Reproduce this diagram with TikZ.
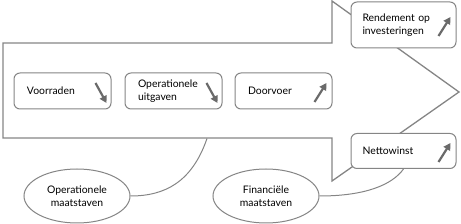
\documentclass[tikz,border=0pt]{standalone}
\usepackage{fontspec}
\setmainfont{Lato}
\usetikzlibrary{shapes.geometric, arrows.meta, calc}

\definecolor{edgegray}{HTML}{858585}
\definecolor{trendgray}{HTML}{6A6A6A}

\begin{document}
\begin{tikzpicture}[x=1pt, y=-1pt,
    every node/.style={font=\fontsize{10.4}{13}\selectfont},
    kpi/.style={draw=edgegray, line width=1pt, rounded corners=6pt, fill=white,
        align=left, inner ysep=0pt},
    kpismall/.style={kpi, text width=71pt, inner xsep=13pt, minimum height=36pt},
    kpiwide/.style={kpi, text width=82pt, inner xsep=11.5pt},
    kind/.style={ellipse, draw=edgegray, line width=1pt, fill=white, align=center,
        minimum width=106pt, minimum height=54pt, inner sep=0pt},
    trend/.style={draw=trendgray, line width=2.2pt, -{Triangle[length=7pt, width=7.5pt]}},
    link/.style={draw=edgegray, line width=1pt}]
    \useasboundingbox (0,0) rectangle (461,224);

    % Big arrow
    \draw[edgegray, line width=1.3pt, line join=miter]
        (3,43) -- (332,43) -- (332,1) -- (459,92) -- (332,181) -- (332,138) -- (3,138) -- cycle;

    % Indicators
    \node[kpismall] (vr) at (62.5,91) {Voorraden};
    \node[kpismall] (ou) at (173.5,91) {Operationele\\uitgaven};
    \node[kpismall] (dv) at (283.5,91) {Doorvoer};
    \node[kpiwide, minimum height=46pt] (ri) at (403.5,25) {Rendement op\\investeringen};
    \node[kpiwide, minimum height=35pt] (nw) at (403.5,151) {Nettowinst};

    \foreach \b in {vr,ou}
        \draw[trend] ($(\b.east)+(-16,-8)$) -- ($(\b.east)+(-5,12)$);
    \foreach \b in {dv,ri,nw}
        \draw[trend] ($(\b.east)+(-18,11)$) -- ($(\b.east)+(-6,-8)$);

    % Measures
    \node[kind] (om) at (77,196) {Operationele\\maatstaven};
    \node[kind] (fm) at (266,196) {Financiële\\maatstaven};
    \coordinate (hit) at (207,138.5);
    \draw[link] (hit) .. controls (192,182) and (165,196) .. (om.east);
    \draw[link] (fm.east) .. controls (365,196) and (392,185) .. (nw.south);
\end{tikzpicture}
\end{document}
